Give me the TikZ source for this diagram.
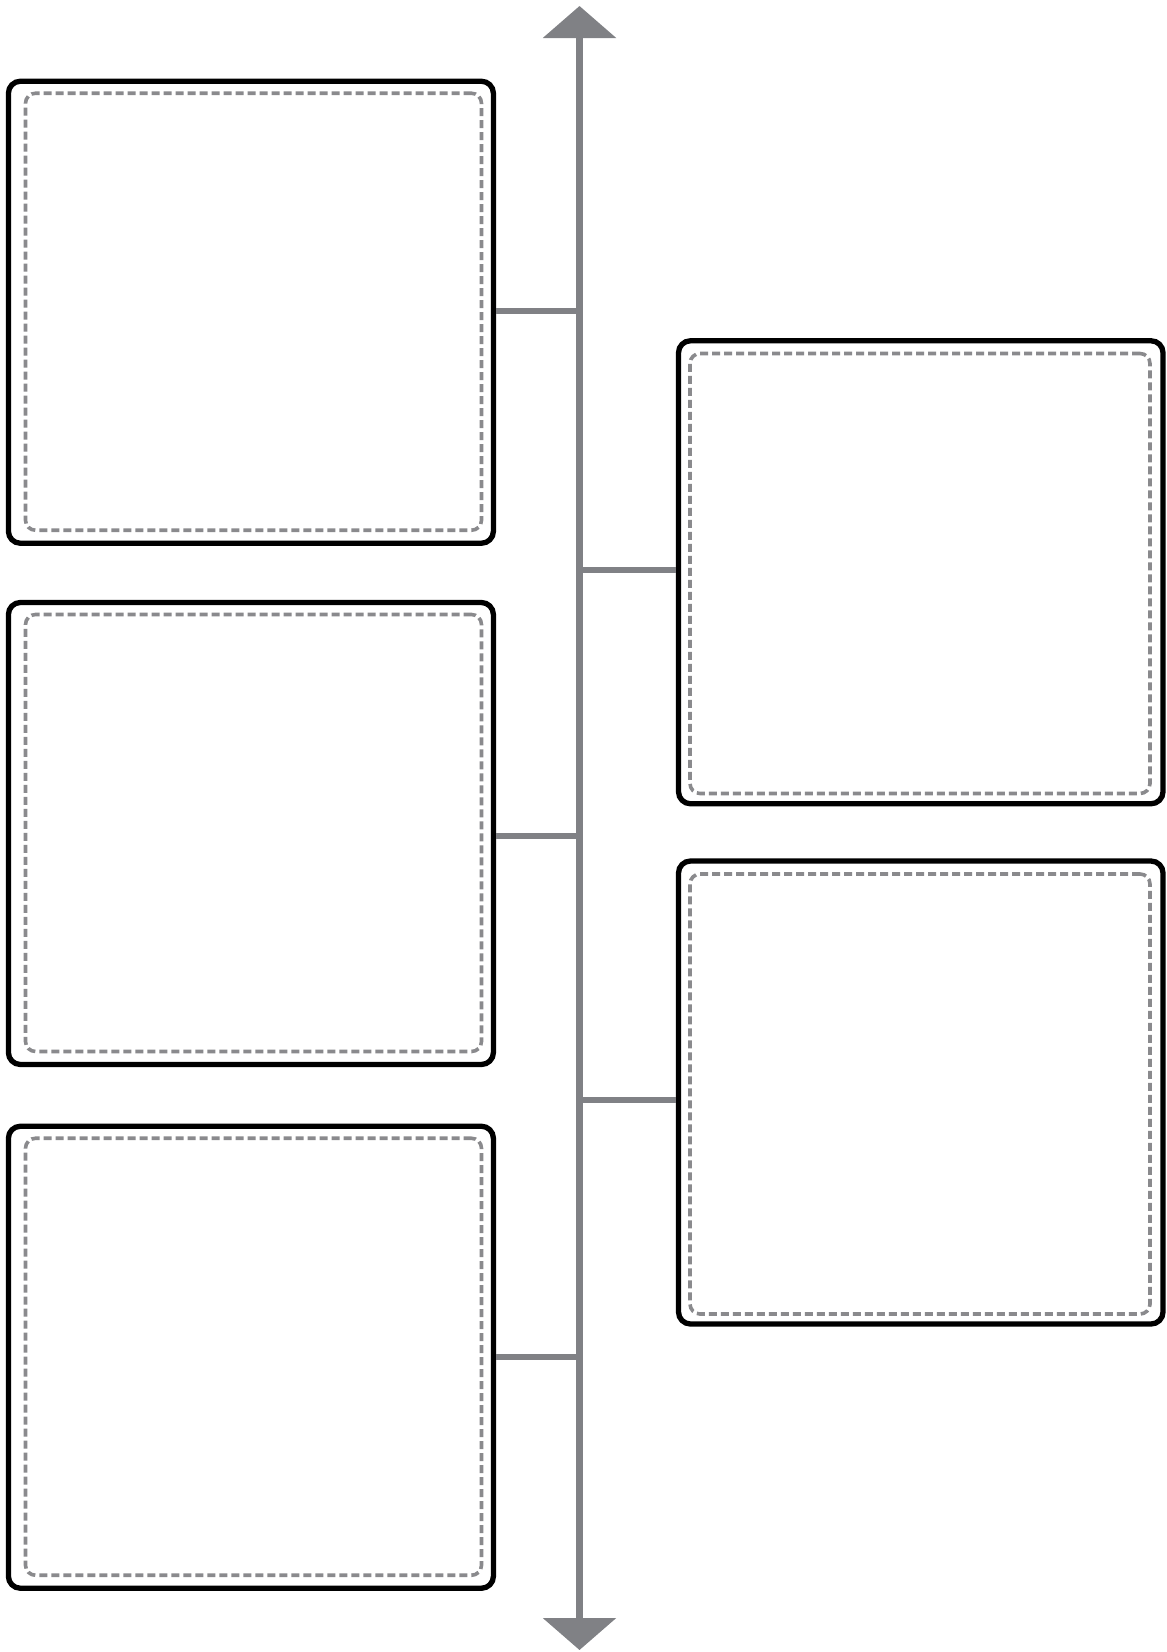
\documentclass[tikz,border=0pt]{standalone}
\usepackage{tikz}
\usetikzlibrary{arrows.meta}
\definecolor{spinegray}{RGB}{128,129,133}
\definecolor{dashgray}{RGB}{138,138,141}

\begin{document}
\begin{tikzpicture}[
  x=1pt, y=-1pt,
  >={Triangle[width=72pt,length=32pt]},
  card/.style={draw=black, line width=5.3pt, rounded corners=12pt, inner sep=0pt, fill=white},
  lcard/.style={card, minimum width=485pt, minimum height=462pt},
  rcard/.style={card, minimum width=484.5pt, minimum height=463pt},
  slot/.style={draw=dashgray, line width=3.6pt, dash pattern=on 8pt off 4pt, rounded corners=10pt, inner sep=0pt},
  lslot/.style={slot, minimum width=456pt, minimum height=437pt},
  rslot/.style={slot, minimum width=460pt, minimum height=440pt},
  spine/.style={draw=spinegray, line width=7pt},
  tick/.style={draw=spinegray, line width=6pt}
]
\useasboundingbox (0,0) rectangle (1167,1652);

% timeline
\coordinate (top) at (579.5,6);
\coordinate (bot) at (579.5,1650);
\draw[spine, <->] (top) -- (bot);

% points on the timeline
\coordinate (s1) at (579.5,311);
\coordinate (s2) at (579.5,570);
\coordinate (s3) at (579.5,836);
\coordinate (s4) at (579.5,1100);
\coordinate (s5) at (579.5,1356.5);

% left cards
\node[lcard] (l1) at (250.9,312.25) {};
\node[lcard] (l2) at (250.9,833.5) {};
\node[lcard] (l3) at (250.9,1357.25) {};
\node[lslot] (d1) at (253.5,311.75) {};
\node[lslot] (d2) at (253.5,833) {};
\node[lslot] (d3) at (253.5,1356.75) {};

% right cards
\node[rcard] (r1) at (920.75,572.25) {};
\node[rcard] (r2) at (920.75,1092.5) {};
\node[rslot] (e1) at (920,573.5) {};
\node[rslot] (e2) at (920,1094) {};

% ticks
\draw[tick] (l1.east |- s1) -- (s1);
\draw[tick] (l2.east |- s3) -- (s3);
\draw[tick] (l3.east |- s5) -- (s5);
\draw[tick] (s2) -- (r1.west |- s2);
\draw[tick] (s4) -- (r2.west |- s4);
\end{tikzpicture}
\end{document}
